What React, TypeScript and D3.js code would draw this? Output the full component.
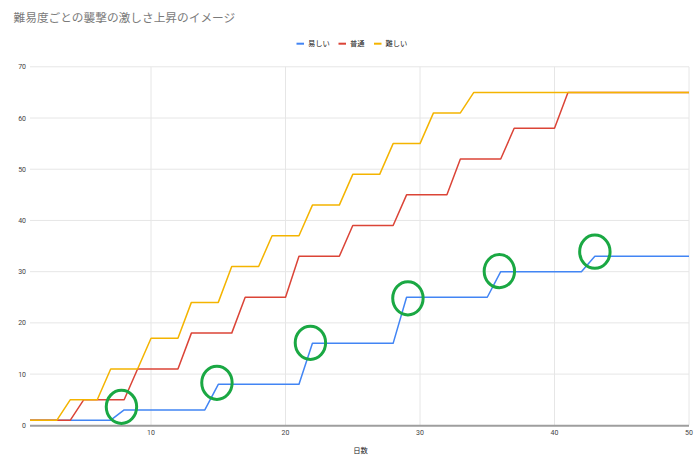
import React from "react";
import * as d3 from "d3";

const days = d3.range(1, 51);
const easy = [1,1,1,1,1,1,1,3,3,3,3,3,3,3,8,8,8,8,8,8,8,16,16,16,16,16,16,16,25,25,25,25,25,25,25,30,30,30,30,30,30,30,33,33,33,33,33,33,33,33];
const normal = [1,1,1,1,5,5,5,5,11,11,11,11,18,18,18,18,25,25,25,25,33,33,33,33,39,39,39,39,45,45,45,45,52,52,52,52,58,58,58,58,65,65,65,65,65,65,65,65,65,65];
const hard = [1,1,1,5,5,5,11,11,11,17,17,17,24,24,24,31,31,31,37,37,37,43,43,43,49,49,49,55,55,55,61,61,61,65,65,65,65,65,65,65,65,65,65,65,65,65,65,65,65,65];
const seriesNames = ["易しい", "普通", "難しい"];
const seriesColors = ["#4285f4", "#db4437", "#f4b400"];
const xTicks = [10, 20, 30, 40, 50];
const yTicks = [0, 10, 20, 30, 40, 50, 60, 70];
const circleDays = [7.8, 14.9, 21.85, 29.1, 35.9, 43];
const circleVals = [3.6, 8.3, 16.1, 24.8, 30.1, 33.9];
const title = "難易度ごとの襲撃の激しさ上昇のイメージ";
const xTitle = "日数";

export default function App() {
  const W = 700, H = 462;
  const x = d3.scaleLinear().domain([1, 50]).range([30, 689]);
  const y = d3.scaleLinear().domain([0, 70]).range([425.3, 66.8]);
  const line = d3.line<number>().x((_, i) => x(days[i])).y((d) => y(d));
  const data = [easy, normal, hard];
  const legendX = [296.5, 338.5, 374];
  const font = "Roboto, Arial, sans-serif";
  return (
    <svg width={W} height={H} style={{ position: "absolute", left: 0, top: 0, background: "#fff" }}>
      <rect width={W} height={H} fill="#fff" />
      <text x={13.5} y={21.5} fontSize={11.7} fill="#7a7a7a" fontFamily="'Noto Sans CJK JP', sans-serif">{title}</text>
      {seriesNames.map((n, i) => (
        <g key={n}>
          <rect x={legendX[i]} y={42.7} width={7.5} height={2} fill={seriesColors[i]} />
          <text x={legendX[i] + 11.5} y={46.3} fontSize={7.3} fill="#222" fontFamily="'Noto Sans CJK JP', sans-serif">{n}</text>
        </g>
      ))}
      {yTicks.filter((t) => t > 0).map((t) => (
        <line key={"h" + t} x1={x(1)} x2={x(50)} y1={y(t)} y2={y(t)} stroke="#e6e6e6" strokeWidth={1} />
      ))}
      {xTicks.map((t) => (
        <line key={"v" + t} x1={x(t)} x2={x(t)} y1={y(70)} y2={y(0)} stroke="#e6e6e6" strokeWidth={1} />
      ))}
      {yTicks.map((t) => (
        <text key={"yl" + t} x={26} y={y(t) + 2.5} fontSize={7} textAnchor="end" fill="#444" fontFamily={font}>{t}</text>
      ))}
      {xTicks.map((t) => (
        <text key={"xl" + t} x={x(t)} y={434.5} fontSize={7} textAnchor="middle" fill="#444" fontFamily={font}>{t}</text>
      ))}
      <text x={x(25.5) + 1} y={452.5} fontSize={7.3} textAnchor="middle" fill="#222" fontFamily="'Noto Sans CJK JP', sans-serif">{xTitle}</text>
      {data.map((d, i) => (
        <path key={i} d={line(d) || ""} fill="none" stroke={seriesColors[i]} strokeWidth={1.5} strokeLinejoin="round" />
      ))}
      <line x1={x(1)} x2={x(50)} y1={y(0) + 0.5} y2={y(0) + 0.5} stroke="#9e9e9e" strokeWidth={2} />
      {circleDays.map((d, i) => (
        <ellipse key={"c" + i} cx={x(d)} cy={y(circleVals[i])} rx={15.2} ry={16.6} fill="none" stroke="#1aa843" strokeWidth={3} />
      ))}
    </svg>
  );
}
